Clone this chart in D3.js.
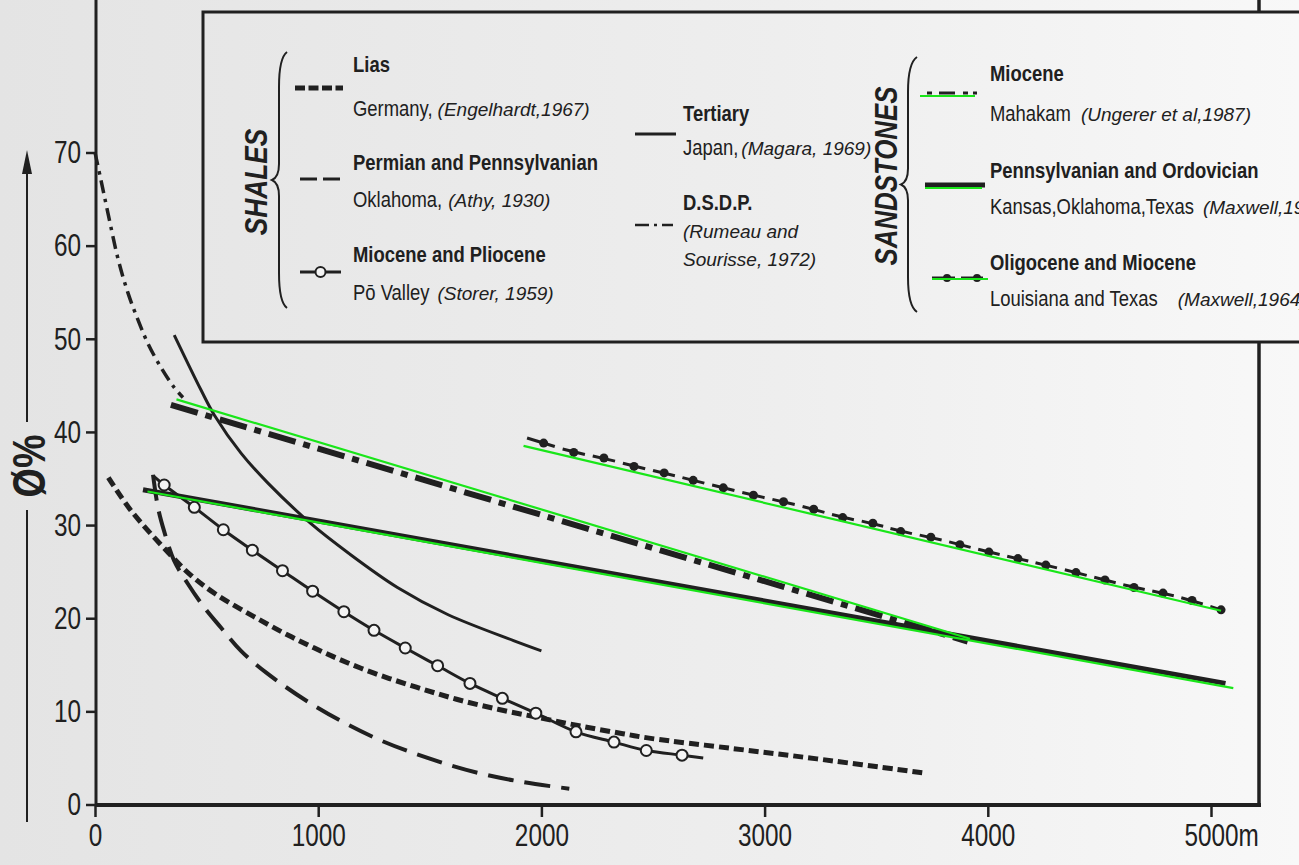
<!DOCTYPE html>
<html>
<head>
<meta charset="utf-8">
<script src="https://cdn.jsdelivr.net/npm/d3@7"></script>
<style>
  body { margin: 0; background: #eeeeee; }
  svg { display: block; }
  text { font-family: "Liberation Sans", Arial, sans-serif; fill: #202020; }
</style>
</head>
<body>
<svg id="chart" width="1299" height="865"></svg>
<script>
// depth in metres, porosity in %

// shales
var liasDepth = [60, 160, 330, 430, 540, 710, 880, 1065, 1250, 1440, 1620, 1810, 1995, 2180, 2365, 2490, 2860, 3235, 3710];
var liasPhi   = [35.1, 31.6, 27.0, 24.6, 22.6, 20.2, 18.0, 15.9, 14.1, 12.6, 11.3, 10.2, 9.3, 8.4, 7.6, 7.1, 6.0, 4.9, 3.4];

var athyDepth = [260, 282, 309, 354, 416, 488, 564, 654, 770, 990, 1250, 1490, 1715, 1920, 2125];
var athyPhi   = [35.4, 31.9, 29.4, 26.2, 23.7, 21.2, 19.0, 16.5, 14.1, 10.5, 7.2, 5.0, 3.4, 2.4, 1.7];

// first and last values are the line ends, the rest are the open circles
var poDepth = [265, 310, 445, 575, 705, 840, 975, 1115, 1250, 1390, 1535, 1680, 1825, 1975, 2155, 2325, 2470, 2630, 2725];
var poPhi   = [35.2, 34.3, 31.9, 29.5, 27.3, 25.1, 22.9, 20.7, 18.7, 16.8, 14.9, 13.0, 11.4, 9.8, 7.8, 6.7, 5.8, 5.3, 5.0];

var japanDepth = [355, 475, 535, 655, 775, 965, 1135, 1355, 1580, 1875, 2000];
var japanPhi   = [50.4, 44.5, 41.8, 37.7, 34.5, 30.2, 27.0, 23.3, 20.4, 17.6, 16.5];

var dsdpDepth = [0, 27, 58, 103, 148, 193, 237, 296, 354, 394];
var dsdpPhi   = [70.0, 67.0, 63.5, 58.6, 54.9, 52.0, 49.5, 46.9, 44.8, 43.7];

// sandstones
var mahakamDepth = [340, 3910];
var mahakamPhi   = [42.9, 17.5];
var mahakamFitDepth = [365, 3920];
var mahakamFitPhi   = [43.5, 17.8];

var kansasDepth = [215, 5065];
var kansasPhi   = [33.8, 13.0];
var kansasFitDepth = [235, 5100];
var kansasFitPhi   = [33.6, 12.5];

var louisianaDepth = [2010, 2145, 2280, 2415, 2550, 2680, 2815, 2950, 3085, 3220, 3350, 3485,
                      3610, 3745, 3875, 4005, 4135, 4260, 4395, 4525, 4655, 4785, 4915, 5045];
var louisianaPhi   = [38.8, 37.8, 37.2, 36.3, 35.6, 34.8, 34.0, 33.2, 32.5, 31.7, 30.8, 30.2,
                      29.3, 28.7, 27.9, 27.1, 26.4, 25.7, 24.9, 24.1, 23.3, 22.7, 21.9, 20.9];
var louisianaFitDepth = [1920, 5045];
var louisianaFitPhi   = [38.5, 20.8];

// axes
var depthTicks = [0, 1000, 2000, 3000, 4000, 5000];
var phiTicks = [0, 10, 20, 30, 40, 50, 60, 70];

var ink = '#202020';
var green = '#19e619';
var NARROW = 0.82;   // the print face is a condensed sans
var TICK_NARROW = 0.76;

var svg = d3.select('#chart');

// paper
var defs = svg.append('defs');
var grad = defs.append('linearGradient').attr('id', 'paper')
    .attr('gradientUnits', 'userSpaceOnUse')
    .attr('x1', 0).attr('x2', 1299).attr('y1', 0).attr('y2', 0);
grad.append('stop').attr('offset', 0).attr('stop-color', '#e4e4e4');
grad.append('stop').attr('offset', 0.6).attr('stop-color', '#eeeeee');
grad.append('stop').attr('offset', 1).attr('stop-color', '#f8f8f8');
svg.append('rect').attr('width', 1299).attr('height', 865).attr('fill', 'url(#paper)');

var x = d3.scaleLinear().domain([0, 5000]).range([95, 1211]);
var y = d3.scaleLinear().domain([0, 70]).range([804.5, 152.5]);

var zip = function(a, b) { return a.map(function(v, i) { return [v, b[i]]; }); };
var curve = d3.line()
    .x(function(d) { return x(d[0]); })
    .y(function(d) { return y(d[1]); })
    .curve(d3.curveCatmullRom.alpha(0.5));
var straight = d3.line()
    .x(function(d) { return x(d[0]); })
    .y(function(d) { return y(d[1]); });

// condensed text helper
function ntext(parent, tx, ty, s, size, weight, extra) {
    return parent.append('text')
        .attr('transform', 'translate(' + tx + ',' + ty + ')' + (extra || '') + ' scale(' + NARROW + ',1)')
        .attr('font-size', size)
        .attr('font-weight', weight || 'normal')
        .text(s);
}

// frame
var frame = svg.append('g').attr('stroke', ink).attr('fill', 'none');
frame.append('line').attr('x1', 96).attr('x2', 96).attr('y1', 0).attr('y2', 806).attr('stroke-width', 3);
frame.append('line').attr('x1', 95).attr('x2', 1261).attr('y1', 805).attr('y2', 805).attr('stroke-width', 4);
frame.append('line').attr('x1', 1259).attr('x2', 1259).attr('y1', 0).attr('y2', 807).attr('stroke-width', 3.5);

// axes
var yAxis = svg.append('g')
    .attr('transform', 'translate(96,0)')
    .call(d3.axisLeft(y).tickValues(phiTicks).tickSize(10).tickPadding(5).tickFormat(d3.format('d')));
var xAxis = svg.append('g')
    .attr('transform', 'translate(0,805)')
    .call(d3.axisBottom(x).tickValues(depthTicks).tickSize(12).tickPadding(6).tickFormat(d3.format('d')));

[yAxis, xAxis].forEach(function(ax) {
    ax.attr('font-size', 32).attr('font-family', null);
    ax.select('.domain').remove();
    ax.selectAll('.tick line').attr('stroke', ink).attr('stroke-width', 2.5);
    ax.selectAll('.tick text').attr('transform', 'scale(' + TICK_NARROW + ',1)');
});
yAxis.selectAll('.tick text').attr('x', -15 / TICK_NARROW);
xAxis.selectAll('.tick text').filter(function(d) { return d === 5000; })
    .each(function() {
        var w = this.getComputedTextLength();
        d3.select(this).attr('text-anchor', 'start').attr('x', -w / 2)
            .append('tspan').text('m');
    });

// y title with arrow
var yt = svg.append('g');
yt.append('line').attr('x1', 27).attr('x2', 27).attr('y1', 822).attr('y2', 510)
    .attr('stroke', ink).attr('stroke-width', 2);
yt.append('line').attr('x1', 27).attr('x2', 27).attr('y1', 422).attr('y2', 168)
    .attr('stroke', ink).attr('stroke-width', 2);
yt.append('path').attr('d', 'M22,174 L27,150 L32,174 Z').attr('fill', ink);
ntext(yt, 45, 466, 'Ø%', 46, 'bold', ' rotate(-90)').attr('text-anchor', 'middle');

// ---- curves ----
var marks = svg.append('g').attr('fill', 'none').attr('stroke', ink).attr('stroke-linecap', 'butt');

marks.append('path').attr('d', curve(zip(dsdpDepth, dsdpPhi)))
    .attr('stroke-width', 3.5).attr('stroke-dasharray', '13,6,3.5,6');

marks.append('path').attr('d', curve(zip(japanDepth, japanPhi)))
    .attr('stroke-width', 3);

marks.append('path').attr('d', curve(zip(athyDepth, athyPhi)))
    .attr('stroke-width', 4).attr('stroke-dasharray', '26,11');

marks.append('path').attr('d', curve(zip(liasDepth, liasPhi)))
    .attr('stroke-width', 5).attr('stroke-dasharray', '10,5');

var poPts = zip(poDepth, poPhi);
marks.append('path').attr('d', curve(poPts)).attr('stroke-width', 3);
marks.selectAll('circle.po')
    .data(poPts.slice(1, -1))
    .enter().append('circle')
    .attr('class', 'po')
    .attr('cx', function(d) { return x(d[0]); })
    .attr('cy', function(d) { return y(d[1]); })
    .attr('r', 5.5)
    .attr('fill', '#f4f4f4')
    .attr('stroke-width', 2);

marks.append('path').attr('d', straight(zip(mahakamDepth, mahakamPhi)))
    .attr('stroke-width', 6).attr('stroke-dasharray', '28,8,7,8');

marks.append('path').attr('d', straight(zip(kansasDepth, kansasPhi)))
    .attr('stroke-width', 5);

// louisiana: a short dash centred on every dot
var lsPts = zip(louisianaDepth, louisianaPhi).map(function(d) { return [x(d[0]), y(d[1])]; });
var lsSegs = lsPts.map(function(p, i) {
    var prev = lsPts[i - 1], next = lsPts[i + 1];
    var a = prev ? [p[0] + (prev[0] - p[0]) * 0.37, p[1] + (prev[1] - p[1]) * 0.37]
                 : [p[0] - (next[0] - p[0]) * 0.55, p[1] - (next[1] - p[1]) * 0.55];
    var b = next ? [p[0] + (next[0] - p[0]) * 0.37, p[1] + (next[1] - p[1]) * 0.37] : p;
    return [a, b];
});
marks.selectAll('line.ls')
    .data(lsSegs)
    .enter().append('line')
    .attr('class', 'ls')
    .attr('x1', function(d) { return d[0][0]; })
    .attr('y1', function(d) { return d[0][1]; })
    .attr('x2', function(d) { return d[1][0]; })
    .attr('y2', function(d) { return d[1][1]; })
    .attr('stroke-width', 3);
marks.selectAll('circle.ls')
    .data(lsPts)
    .enter().append('circle')
    .attr('class', 'ls')
    .attr('cx', function(d) { return d[0]; })
    .attr('cy', function(d) { return d[1]; })
    .attr('r', 4.5)
    .attr('fill', ink)
    .attr('stroke', 'none');

// green fitted lines on top
var fits = svg.append('g').attr('fill', 'none').attr('stroke', green).attr('stroke-width', 2.2);
fits.append('path').attr('d', straight(zip(mahakamFitDepth, mahakamFitPhi)));
fits.append('path').attr('d', straight(zip(kansasFitDepth, kansasFitPhi)));
fits.append('path').attr('d', straight(zip(louisianaFitDepth, louisianaFitPhi)));

// ---- legend ----
var lg = svg.append('g');
lg.append('rect').attr('x', 203).attr('y', 12).attr('width', 1200).attr('height', 330)
    .attr('fill', 'url(#paper)').attr('stroke', ink).attr('stroke-width', 3);

ntext(lg, 267, 182, 'SHALES', 32, 'bold', ' rotate(-90)')
    .attr('text-anchor', 'middle').attr('font-style', 'italic');
ntext(lg, 897, 176, 'SANDSTONES', 31.5, 'bold', ' rotate(-90)')
    .attr('text-anchor', 'middle').attr('font-style', 'italic');

function brace(xr, xl, tip, top, bot) {
    var mid = (top + bot) / 2;
    var d = 'M' + xr + ',' + top +
        ' Q' + xl + ',' + (top + 6) + ' ' + xl + ',' + (top + 35) +
        ' L' + xl + ',' + (mid - 16) +
        ' Q' + xl + ',' + (mid - 3) + ' ' + tip + ',' + mid +
        ' Q' + xl + ',' + (mid + 3) + ' ' + xl + ',' + (mid + 16) +
        ' L' + xl + ',' + (bot - 35) +
        ' Q' + xl + ',' + (bot - 6) + ' ' + xr + ',' + bot;
    lg.append('path').attr('d', d).attr('fill', 'none').attr('stroke', ink).attr('stroke-width', 2);
}
brace(287, 279, 272, 52, 308);
brace(917, 908, 901, 57, 312);

function title(tx, ty, s) {
    ntext(lg, tx, ty, s, 22.5, 'bold');
}
function source(tx, ty, plain, ital, gap) {
    var w = 0;
    if (plain) {
        var t = ntext(lg, tx, ty, plain, 22.5);
        w = t.node().getComputedTextLength() * NARROW + gap;
    }
    if (ital) {
        lg.append('text').attr('x', tx + w).attr('y', ty)
            .attr('font-style', 'italic').attr('font-size', 19).text(ital);
    }
}

title(353, 72, 'Lias');
source(353, 116, 'Germany,', '(Engelhardt,1967)', 5);
title(353, 170, 'Permian and Pennsylvanian');
source(353, 207, 'Oklahoma,', '(Athy, 1930)', 6);
title(353, 262, 'Miocene and Pliocene');
source(353, 300, 'Pō Valley', '(Storer, 1959)', 8);

title(683, 121, 'Tertiary');
source(683, 155, 'Japan,', '(Magara, 1969)', 3);
title(683, 210, 'D.S.D.P.');
source(683, 238, null, '(Rumeau and');
source(683, 266, null, 'Sourisse, 1972)');

title(990, 81, 'Miocene');
source(990, 121, 'Mahakam', '(Ungerer et al,1987)', 10);
title(990, 178, 'Pennsylvanian and Ordovician');
source(990, 214, 'Kansas,Oklahoma,Texas', '(Maxwell,1964)', 9);
title(990, 270, 'Oligocene and Miocene');
source(990, 306, 'Louisiana and Texas', '(Maxwell,1964)', 20);

// legend keys
var key = lg.append('g').attr('fill', 'none').attr('stroke', ink);
key.append('line').attr('x1', 295).attr('x2', 343).attr('y1', 88).attr('y2', 88)
    .attr('stroke-width', 5).attr('stroke-dasharray', '10,3.5');
key.append('line').attr('x1', 300).attr('x2', 340).attr('y1', 179).attr('y2', 179)
    .attr('stroke-width', 3).attr('stroke-dasharray', '17,6');
key.append('line').attr('x1', 300).attr('x2', 341).attr('y1', 272).attr('y2', 272)
    .attr('stroke-width', 3);
key.append('circle').attr('cx', 320.5).attr('cy', 272).attr('r', 5)
    .attr('fill', '#f4f4f4').attr('stroke-width', 2);
key.append('line').attr('x1', 635).attr('x2', 676).attr('y1', 134).attr('y2', 134)
    .attr('stroke-width', 3);
key.append('line').attr('x1', 635).attr('x2', 673).attr('y1', 225).attr('y2', 225)
    .attr('stroke-width', 2.5).attr('stroke-dasharray', '14,5,3,5');
key.append('line').attr('x1', 927).attr('x2', 977).attr('y1', 93).attr('y2', 93)
    .attr('stroke-width', 3).attr('stroke-dasharray', '5,7,16,8,5');
key.append('line').attr('x1', 925).attr('x2', 985).attr('y1', 185).attr('y2', 185)
    .attr('stroke-width', 5);
key.append('line').attr('x1', 932).attr('x2', 988).attr('y1', 278).attr('y2', 278)
    .attr('stroke-width', 3).attr('stroke-dasharray', '23,6,22,6');
[947, 977].forEach(function(cx) {
    key.append('circle').attr('cx', cx).attr('cy', 278).attr('r', 4).attr('fill', ink).attr('stroke', 'none');
});
var keyFit = lg.append('g').attr('stroke', green).attr('stroke-width', 2.2);
keyFit.append('line').attr('x1', 920).attr('x2', 975).attr('y1', 96).attr('y2', 96);
keyFit.append('line').attr('x1', 925).attr('x2', 982).attr('y1', 188).attr('y2', 188);
keyFit.append('line').attr('x1', 932).attr('x2', 988).attr('y1', 279).attr('y2', 279);
</script>
</body>
</html>
